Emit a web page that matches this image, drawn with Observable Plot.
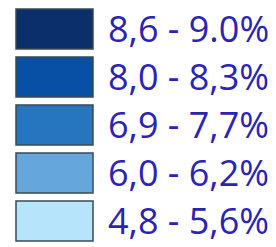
<!DOCTYPE html>
<html><head><meta charset="utf-8">
<script src="https://cdn.jsdelivr.net/npm/d3@7"></script>
<script src="https://cdn.jsdelivr.net/npm/@observablehq/plot@0.6"></script>
<style>body{margin:0;background:#fff}</style>
</head><body><div id="chart"></div>
<script>
const labels = ["8,6 - 9.0%", "8,0 - 8,3%", "6,9 - 7,7%", "6,0 - 6,2%", "4,8 - 5,6%"];
const colors = ["#0a2f6b", "#0750a5", "#2575bf", "#65a6dc", "#b6e4fb"];
const data = labels.map((l, i) => ({label: l, color: colors[i], col: "swatch"}));
const chart = Plot.plot({
  width: 276, height: 247,
  margin: 0,
  style: {fontFamily: "'Open Sans', sans-serif", background: "#fff"},
  x: {type: "band", domain: ["swatch"], range: [16, 93], padding: 0, axis: null},
  y: {type: "band", domain: labels, range: [9, 241], paddingInner: 0.167, paddingOuter: 0, axis: null},
  marks: [
    Plot.cell(data, {x: "col", y: "label", fill: d => d.color, stroke: "#3a4a55", strokeWidth: 1.5}),
    Plot.text(data, {x: "col", y: "label", text: "label", textAnchor: "start", dx: 53, dy: 1, fontSize: 36, fill: "#2b22b8"})
  ]
});
document.getElementById("chart").append(chart);
</script></body></html>
